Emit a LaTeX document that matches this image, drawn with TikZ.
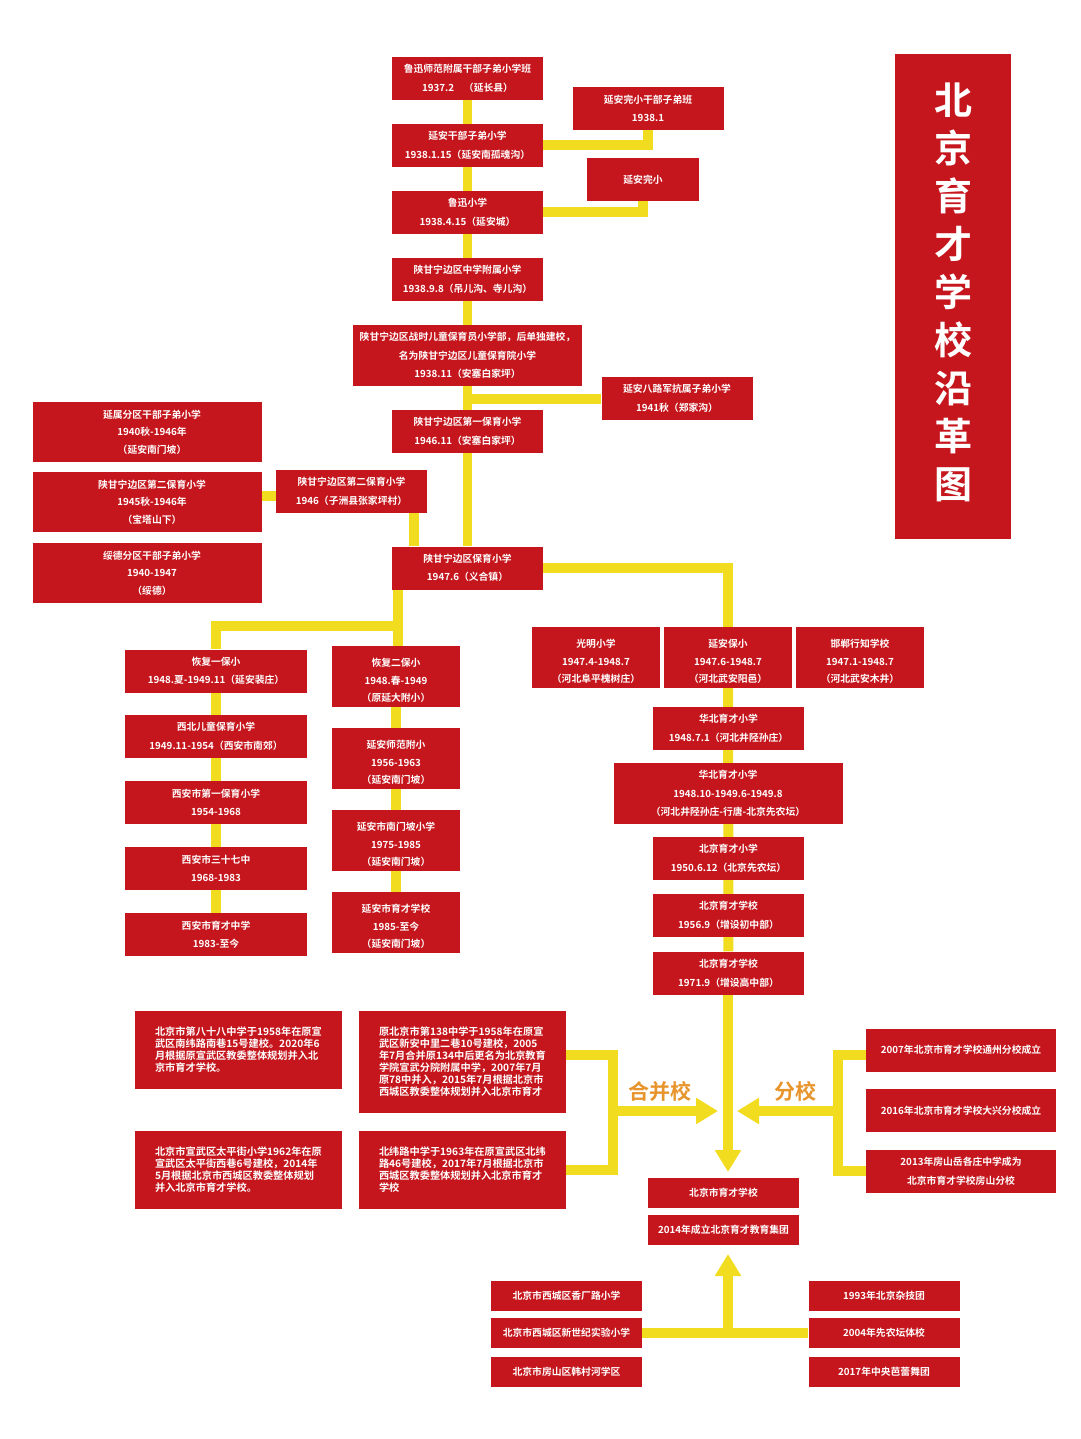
\documentclass[tikz,border=0pt]{standalone}
\usepackage{fontspec}
\newfontfamily\cjk{Noto Sans CJK SC}[BoldFont={Noto Sans CJK SC Bold}]
\usetikzlibrary{arrows.meta,backgrounds}
\definecolor{schoolred}{HTML}{C5161D}
\definecolor{linkyellow}{HTML}{F2DC1F}
\definecolor{tagorange}{HTML}{E8942C}
\newcommand{\nudge}{\hspace*{9pt}}
\newcommand{\sink}{\rule{0pt}{16pt}}
\begin{document}
\begin{tikzpicture}[x=1pt,y=-1pt,>={Triangle[length=22pt,width=25pt]},
	box/.style={fill=schoolred,text=white,inner sep=0pt,align=center,font=\cjk\bfseries\fontsize{9.8}{18.5}\selectfont},
	small/.style={box,minimum width=151pt,minimum height=43pt},
	left3/.style={box,minimum width=229pt,minimum height=60pt,font=\cjk\bfseries\fontsize{9.8}{17.5}\selectfont},
	cell/.style={box,minimum width=128pt,minimum height=61pt,font=\cjk\bfseries\fontsize{9.8}{17.5}\selectfont},
	xian/.style={box,minimum width=182pt,minimum height=43pt},
	note/.style={box,align=left,text width=167pt,inner xsep=20pt,minimum height=78pt,font=\cjk\bfseries\fontsize{10.2}{12}\selectfont},
	branch/.style={box,minimum width=190pt,minimum height=43pt},
	strip/.style={box,minimum width=151pt,minimum height=30pt},
	link/.style={draw=linkyellow,line width=10pt},
	tag/.style={text=tagorange,inner sep=0pt,font=\cjk\bfseries\fontsize{21}{21}\selectfont}]
	\useasboundingbox (0,0) rectangle (1080,1439);
	% title
	\node[fill=schoolred,text=white,minimum width=116pt,minimum height=485pt,inner sep=0pt,align=center,font=\cjk\bfseries\fontsize{38}{48}\selectfont] (title) at (953,296.5) {北\\京\\育\\才\\学\\校\\沿\\革\\图\rule[-12pt]{0pt}{1pt}};
	% main line
	\node[small] (lu1) at (467.5,78.5) {鲁迅师范附属干部子弟小学班\\1937.2\quad（延长县）};
	\node[small] (yan1) at (467.5,145.5) {延安干部子弟小学\\1938.1.15（延安南孤魂沟）};
	\node[small] (lu2) at (467.5,212.5) {鲁迅小学\\1938.4.15（延安城）};
	\node[small] (shan1) at (467.5,279.5) {陕甘宁边区中学附属小学\\1938.9.8（吊儿沟、寺儿沟）};
	\node[box,minimum width=229pt,minimum height=61pt] (shan2) at (467.5,355.5) {陕甘宁边区战时儿童保育员小学部，后单独建校，\\名为陕甘宁边区儿童保育院小学\\1938.11（安塞白家坪）};
	\node[small] (shan3) at (467.5,431.5) {陕甘宁边区第一保育小学\\1946.11（安塞白家坪）};
	\node[small] (shan4) at (467.5,568) {陕甘宁边区保育小学\\1947.6（义合镇）};
	\node[small] (wan1) at (648,108.5) {延安完小干部子弟班\\1938.1};
	\node[box,minimum width=112pt,minimum height=43pt] (wan2) at (643,179.5) {延安完小};
	\node[small] (balu) at (677,398.5) {延安八路军抗属子弟小学\\1941秋（郑家沟）};
	% left group
	\node[left3] (fen1) at (147.5,432) {\nudge 延属分区干部子弟小学\\\nudge 1940秋-1946年\\\nudge（延安南门坡）};
	\node[left3] (fen2) at (147.5,502) {\nudge 陕甘宁边区第二保育小学\\\nudge 1945秋-1946年\\\nudge（宝塔山下）};
	\node[left3] (fen3) at (147.5,573) {\nudge 绥德分区干部子弟小学\\\nudge 1940-1947\\\nudge（绥德）};
	\node[small] (er) at (351.5,491.5) {陕甘宁边区第二保育小学\\1946（子洲县张家坪村）};
	% xi'an column
	\node[xian] (xi1) at (216,671) {恢复一保小\\1948.夏-1949.11（延安裴庄）};
	\node[xian] (xi2) at (216,736.5) {西北儿童保育小学\\1949.11-1954（西安市南郊）};
	\node[xian] (xi3) at (216,802.5) {西安市第一保育小学\\1954-1968};
	\node[xian] (xi4) at (216,868.5) {西安市三十七中\\1968-1983};
	\node[xian] (xi5) at (216,934.5) {西安市育才中学\\1983-至今};
	% yan'an column
	\node[cell] (ya1) at (396,676.5) {\sink 恢复二保小\\1948.春-1949\\（原延大附小）};
	\node[cell] (ya2) at (396,758.5) {\sink 延安师范附小\\1956-1963\\（延安南门坡）};
	\node[cell] (ya3) at (396,840.5) {\sink 延安市南门坡小学\\1975-1985\\（延安南门坡）};
	\node[cell] (ya4) at (396,922.5) {\sink 延安市育才学校\\1985-至今\\（延安南门坡）};
	% north china column
	\node[cell] (he1) at (596,657.5) {\sink 光明小学\\1947.4-1948.7\\（河北阜平槐树庄）};
	\node[cell] (he2) at (728,657.5) {\sink 延安保小\\1947.6-1948.7\\（河北武安阳邑）};
	\node[cell] (he3) at (860,657.5) {\sink 邯郸行知学校\\1947.1-1948.7\\（河北武安木井）};
	\node[small] (hua1) at (728.5,728.5) {华北育才小学\\1948.7.1（河北井陉孙庄）};
	\node[box,minimum width=229pt,minimum height=61pt] (hua2) at (728,793.5) {华北育才小学\\1948.10-1949.6-1949.8\\（河北井陉孙庄-行唐-北京先农坛）};
	\node[small] (bei1) at (728.5,858.5) {北京育才小学\\1950.6.12（北京先农坛）};
	\node[small] (bei2) at (728.5,915.5) {北京育才学校\\1956.9（增设初中部）};
	\node[small] (bei3) at (728.5,973) {北京育才学校\\1971.9（增设高中部）};
	% merged schools
	\node[note] (he88) at (238.5,1050) {北京市第八十八中学于1958年在原宣\\武区南纬路南巷15号建校。2020年6\\月根据原宣武区教委整体规划并入北\\京市育才学校。};
	\node[note,minimum height=102pt] (he138) at (462.5,1062) {原北京市第138中学于1958年在原宣\\武区新安中里二巷10号建校，2005\\年7月合并原134中后更名为北京教育\\学院宣武分院附属中学，2007年7月\\原78中并入，2015年7月根据北京市\\西城区教委整体规划并入北京市育才};
	\node[note] (tai) at (238.5,1170) {北京市宣武区太平街小学1962年在原\\宣武区太平街西巷6号建校，2014年\\5月根据北京市西城区教委整体规划\\并入北京市育才学校。};
	\node[note] (nan) at (462.5,1170) {北纬路中学于1963年在原宣武区北纬\\路46号建校，2017年7月根据北京市\\西城区教委整体规划并入北京市育才\\学校};
	\node[tag] (hebing) at (660,1091) {合并校};
	\node[tag] (fenxiao) at (795,1091) {分校};
	% branch schools
	\node[branch] (tong) at (961,1050) {2007年北京市育才学校通州分校成立};
	\node[branch] (da) at (961,1110.5) {2016年北京市育才学校大兴分校成立};
	\node[branch] (fang) at (961,1171) {2013年房山岳各庄中学成为\\北京市育才学校房山分校};
	% result
	\node[strip] (yc) at (723.5,1193) {北京市育才学校};
	\node[strip] (jt) at (723.5,1229.5) {2014年成立北京育才教育集团};
	% bottom rows
	\node[strip] (xc1) at (566.5,1296) {北京市西城区香厂路小学};
	\node[strip] (xc2) at (566.5,1332.5) {北京市西城区新世纪实验小学};
	\node[strip] (xc3) at (566.5,1371.5) {北京市房山区韩村河学区};
	\node[strip] (za) at (884,1296) {1993年北京杂技团};
	\node[strip] (xn) at (884,1332.5) {2004年先农坛体校};
	\node[strip] (ba) at (884,1371.5) {2017年中央芭蕾舞团};
	% free ends
	\coordinate (mergetip) at (718,1111);
	\coordinate (mergejoin) at (613,1111);
	\coordinate (splittip) at (737,1111);
	\coordinate (splitjoin) at (838,1111);
	\coordinate (bracket) at (838,1055);
	\coordinate (endtip) at (728,1172);
	\coordinate (uptip) at (728,1254);
	\coordinate (upjoin) at (728,1332.5);
	\coordinate (forkl) at (398,626);
	\coordinate (erlink) at (269,496);
	\coordinate (erdrop) at (414,512);
	\begin{scope}[on background layer]
		\draw[link,line width=9pt] (lu1)--(shan4);
		\draw[link] (yan1.east)-|(wan1.south);
		\draw[link] (lu2.east)-|(wan2.south);
		\draw[link] (balu.west)--(balu.west-|shan3.north);
		\draw[link] (fen2.east|-erlink)--(er.west|-erlink);
		\draw[link] (er.south-|erdrop)--(shan4.north-|erdrop);
		\draw[link] (shan4.south-|forkl)--(ya1.north-|forkl);
		\draw[link] (forkl)-|(xi1.north);
		\draw[link] (xi1)--(xi5);
		\draw[link] (ya1)--(ya4);
		\draw[link] (shan4.east)-|(he2.north);
		\draw[link] (he2)--(bei3);
		\draw[link,->] (bei3.south-|endtip)--(endtip);
		\draw[link] (he138.east|-bracket)-|(mergejoin)|-(nan.east);
		\draw[link,->] (mergejoin)--(mergetip);
		\draw[link] (tong.west|-bracket)-|(splitjoin)|-(fang.west);
		\draw[link,->] (splitjoin)--(splittip);
		\draw[link] (xc2.east)--(xn.west);
		\draw[link,->] (upjoin)--(uptip);
	\end{scope}
\end{tikzpicture}
\end{document}
